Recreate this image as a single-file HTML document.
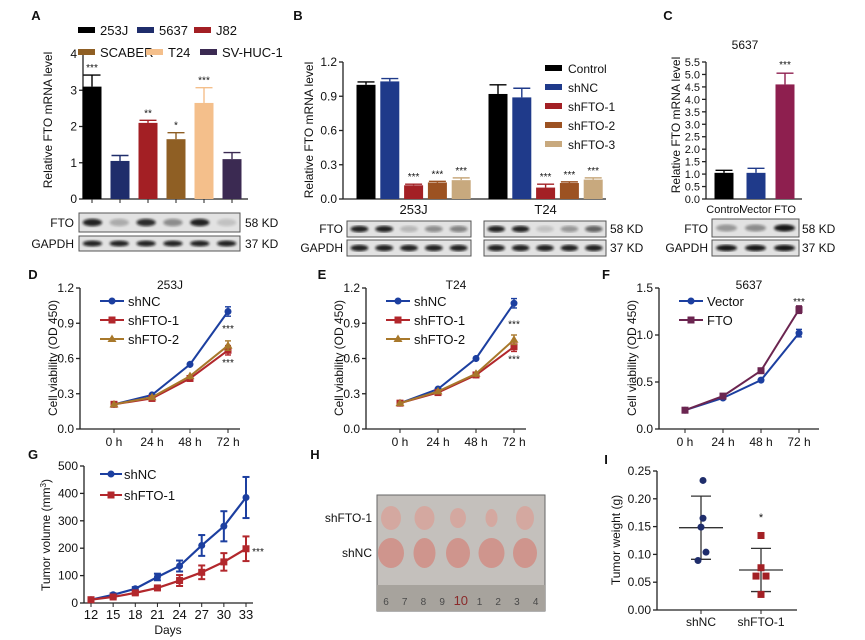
<!DOCTYPE html>
<html><head><meta charset="utf-8"><style>
html,body{margin:0;padding:0;background:#fff}
svg{display:block;font-family:"Liberation Sans",sans-serif}
</style></head><body>
<svg id="fig" width="865" height="640" viewBox="0 0 865 640">
<defs><filter id="blur"><feGaussianBlur stdDeviation="1.2"/></filter></defs>
<g id="root"></g>
</svg>
<script>
// Panel A
const aCats=["253J","5637","J82","SCABER","T24","SV-HUC-1"];
const aVals=[3.1,1.05,2.1,1.65,2.65,1.1];
const aErr=[0.32,0.15,0.07,0.18,0.42,0.18];
const aSig=["***","","**","*","***",""];
const aTicks=[0,1,2,3,4];
// Panel B
const bGroups=["253J","T24"];
const bSeries=["Control","shNC","shFTO-1","shFTO-2","shFTO-3"];
const b253=[1.0,1.03,0.12,0.145,0.165];
const b253Err=[0.025,0.025,0.01,0.01,0.02];
const bT24=[0.92,0.89,0.1,0.14,0.17];
const bT24Err=[0.08,0.08,0.03,0.01,0.015];
const bTicks=[0,0.3,0.6,0.9,1.2];
// Panel C
const cCats=["Control","Vector","FTO"];
const cVals=[1.05,1.05,4.6];
const cErr=[0.1,0.18,0.45];
const cTicks=[0,0.5,1,1.5,2,2.5,3,3.5,4,4.5,5,5.5];
// Panels D/E/F
const timeCats=["0 h","24 h","48 h","72 h"];
const dShNC=[0.21,0.29,0.55,1.0];
const dShFTO1=[0.21,0.26,0.43,0.67];
const dShFTO2=[0.21,0.27,0.45,0.71];
const eShNC=[0.22,0.34,0.6,1.07];
const eShFTO1=[0.22,0.31,0.46,0.7];
const eShFTO2=[0.22,0.32,0.47,0.76];
const fVector=[0.2,0.33,0.52,1.02];
const fFTO=[0.2,0.35,0.62,1.27];
const cvTicks=[0,0.3,0.6,0.9,1.2];
const fTicks=[0,0.5,1.0,1.5];
// Panel G
const gDays=[12,15,18,21,24,27,30,33];
const gShNC=[12,30,52,95,135,210,280,385];
const gShNCErr=[5,5,6,12,20,38,55,75];
const gShFTO=[12,22,37,55,82,112,150,198];
const gShFTOErr=[3,5,6,6,20,25,32,45];
const gTicks=[0,100,200,300,400,500];
// Panel I
const iGroups=["shNC","shFTO-1"];
const iShNC=[0.233,0.165,0.149,0.104,0.089];
const iShFTO=[0.134,0.076,0.061,0.061,0.028];
const iTicks=[0,0.05,0.1,0.15,0.2,0.25];

const NS="http://www.w3.org/2000/svg";
const root=document.getElementById('root');
function el(tag,attrs,parent,text){const e=document.createElementNS(NS,tag);for(const k in attrs)e.setAttribute(k,attrs[k]);if(text!==undefined)e.textContent=text;(parent||root).appendChild(e);return e;}
function lin(d0,d1,r0,r1){return v=>r0+(v-d0)*(r1-r0)/(d1-d0);}
function txt(x,y,s,size,anchor,parent,name,extra){const t=el('text',Object.assign({x:x,y:y,'font-size':size,'text-anchor':anchor||'middle',fill:'#111'},extra||{}),parent,s);

return t;}
function yAxis(g,x,y,ticks,fmt,fs){el('line',{x1:x,y1:y(ticks[0]),x2:x,y2:y(ticks[ticks.length-1]),stroke:'#222','stroke-width':1.3},g);
ticks.forEach(t=>{el('line',{x1:x-4,y1:y(t),x2:x,y2:y(t),stroke:'#222','stroke-width':1.3},g);txt(x-6,y(t)+4,fmt(t),fs||12,'end',g,'y-tick-label');});}
function ytitle(g,x,y,s){const t=txt(x,y,s,12,'middle',g,'y-axis-title',{transform:`rotate(-90 ${x} ${y})`});return t;}
function panelLabel(x,y,s){const t=txt(x,y,s,13,'middle',root,'panel-label-'+s.toLowerCase(),{'font-weight':'bold'});}
function errBar(g,x,y1,y2,w,color){el('line',{x1:x,y1:y1,x2:x,y2:y2,stroke:color,'stroke-width':1.4},g);el('line',{x1:x-w,y1:y2,x2:x+w,y2:y2,stroke:color,'stroke-width':1.4},g);}
function bar(g,x,w,y,v,err,color,name){const r=el('rect',{x:x-w/2,y:y(v),width:w,height:y(0)-y(v),fill:color},g);


errBar(g,x,y(v),y(v+err),w/2-1,color);}
function blot(g,x1,x2,y1,h,n,intens,name){const b=el('rect',{x:x1,y:y1,width:x2-x1,height:h,fill:'#e2e2e2',stroke:'#555','stroke-width':1},g);


const step=(x2-x1)/n;for(let i=0;i<n;i++){el('ellipse',{cx:x1+step*(i+0.5),cy:y1+h/2,rx:step*0.36,ry:h*0.2,fill:'#111','opacity':intens[i],filter:'url(#blur)'},g);}}

// ---------- Panel A ----------
(function(){const g=el('g',{});  
panelLabel(36,20,'A');
const y=lin(0,4,199,54);const cols=['#000','#1f2d6b','#a31f24','#8f5f24','#f4bf8b','#3b2a52'];
const xs=aCats.map((c,i)=>92+i*28);
yAxis(g,83,y,aTicks,t=>t);
el('line',{x1:83,y1:199,x2:248,y2:199,stroke:'#222','stroke-width':1.3},g);
aCats.forEach((c,i)=>{bar(g,xs[i],19,y,aVals[i],aErr[i],cols[i],'bar-'+c.toLowerCase());
el('line',{x1:xs[i],y1:199,x2:xs[i],y2:203,stroke:'#222'},g);
if(aSig[i])txt(xs[i],y(aVals[i]+aErr[i])-4,aSig[i],10,'middle',g,'significance-mark');});
ytitle(g,52,120,'Relative FTO mRNA level');
const leg=[[78,30],[137,30],[194,30],[78,52],[146,52],[200,52]];
aCats.forEach((c,i)=>{const r=el('rect',{x:leg[i][0],y:leg[i][1]-3,width:17,height:6,fill:cols[i]},g);


txt(leg[i][0]+22,leg[i][1]+5,c,13,'start',g,'legend-entry');});
blot(g,79,240,213,19,6,[0.9,0.25,0.85,0.4,0.9,0.15],'fto-blot');
blot(g,79,240,236,15,6,[0.9,0.9,0.9,0.9,0.9,0.9],'gapdh-blot');
txt(74,227,'FTO',12,'end',g,'blot-label');txt(74,248,'GAPDH',12,'end',g,'blot-label');
txt(245,227,'58 KD',12,'start',g,'blot-size');txt(245,248,'37 KD',12,'start',g,'blot-size');
})();

// ---------- Panel B ----------
(function(){const g=el('g',{});  
panelLabel(298,20,'B');
const y=lin(0,1.2,199,62);const cols=['#000','#1f3a8a','#a32025','#9c5222','#c8a97e'];
yAxis(g,343,y,bTicks,t=>t.toFixed(1));
el('line',{x1:343,y1:199,x2:606,y2:199,stroke:'#222','stroke-width':1.3},g);
const starts=[366,498];const data=[b253,bT24];const errs=[b253Err,bT24Err];
bGroups.forEach((gr,k)=>{bSeries.forEach((s,i)=>{const x=starts[k]+i*23.8;bar(g,x,19,y,data[k][i],errs[k][i],cols[i],'bar-'+gr.toLowerCase()+'-'+s.toLowerCase());
if(i>=2)txt(x,y(data[k][i]+errs[k][i])-4,'***',10,'middle',g,'significance-mark');});
txt(starts[k]+47.6,214,gr,13,'middle',g,'x-group-label');});
ytitle(g,313,130,'Relative FTO mRNA level');
bSeries.forEach((s,i)=>{const r=el('rect',{x:545,y:65+i*19,width:17,height:6,fill:cols[i]},g);


txt(568,73+i*19,s,12,'start',g,'legend-entry');});
blot(g,347,471,221,16,5,[0.9,0.9,0.2,0.4,0.45],'fto-blot-253j');
blot(g,347,471,240,16,5,[0.9,0.9,0.9,0.9,0.9],'gapdh-blot-253j');
blot(g,484,606,221,16,5,[0.9,0.9,0.15,0.35,0.6],'fto-blot-t24');
blot(g,484,606,240,16,5,[0.9,0.9,0.9,0.9,0.9],'gapdh-blot-t24');
txt(343,233,'FTO',12,'end',g,'blot-label');txt(343,252,'GAPDH',12,'end',g,'blot-label');
txt(610,233,'58 KD',12,'start',g,'blot-size');txt(610,252,'37 KD',12,'start',g,'blot-size');
})();

// ---------- Panel C ----------
(function(){const g=el('g',{});  
panelLabel(668,20,'C');
const y=lin(0,5.5,199,62);const cols=['#000','#1f3a8a','#8e1f4f'];
yAxis(g,706,y,cTicks,t=>t.toFixed(1),11);
el('line',{x1:706,y1:199,x2:802,y2:199,stroke:'#222','stroke-width':1.3},g);
txt(745,49,'5637',12,'middle',g,'chart-title');
const xs=[724,756,785];
cCats.forEach((c,i)=>{bar(g,xs[i],19,y,cVals[i],cErr[i],cols[i],'bar-'+c.toLowerCase());txt(xs[i],213,c,11,'middle',g,'x-tick-label');});
txt(785,y(cVals[2]+cErr[2])-5,'***',10,'middle',g,'significance-mark');
ytitle(g,680,125,'Relative FTO mRNA level');
blot(g,712,799,219,18,3,[0.35,0.4,0.95],'fto-blot');
blot(g,712,799,240,16,3,[0.95,0.95,0.95],'gapdh-blot');
txt(708,233,'FTO',12,'end',g,'blot-label');txt(708,252,'GAPDH',12,'end',g,'blot-label');
txt(802,233,'58 KD',12,'start',g,'blot-size');txt(802,252,'37 KD',12,'start',g,'blot-size');
})();

// ---------- line charts ----------
function lineChart(name,label,lx,ox,x0,x3,title,series,names,cols,marks,ticks,ymax,fmt,sig){
const g=el('g',{});
panelLabel(lx,279,label);
const y=lin(0,ymax,429,288);const x=lin(0,3,ox+x0,ox+x3);
yAxis(g,ox,y,ticks,fmt);
el('line',{x1:ox,y1:429,x2:ox+160,y2:429,stroke:'#222','stroke-width':1.3},g);
timeCats.forEach((c,i)=>{el('line',{x1:x(i),y1:429,x2:x(i),y2:433,stroke:'#222'},g);txt(x(i),446,c,12,'middle',g,'x-tick-label');});
txt(ox+90,289,title,12,'middle',g,'chart-title');
ytitle(g,ox-23,358,'Cell viability (OD 450)');
series.forEach((s,k)=>{const p=el('polyline',{points:s.map((v,i)=>x(i)+','+y(v)).join(' '),fill:'none',stroke:cols[k],'stroke-width':2},g);


s.forEach((v,i)=>{if(i==3){errBar(g,x(i),y(v),y(v+0.04),3,cols[k]);errBar(g,x(i),y(v),y(v-0.04),3,cols[k]);}
if(i==2){el('line',{x1:x(i),y1:y(v-0.03),x2:x(i),y2:y(v+0.03),stroke:cols[k],'stroke-width':1.4},g);}
mark(g,x(i),y(v),marks[k],cols[k]);});
const ly=301+k*19;el('line',{x1:ox+20,y1:ly,x2:ox+44,y2:ly,stroke:cols[k],'stroke-width':2},g);mark(g,ox+32,ly,marks[k],cols[k]);
txt(ox+48,ly+5,names[k],13,'start',g,'legend-entry');});
sig.forEach(s=>txt(x(3),y(s)+4,'***',10,'middle',g,'significance-mark'));
}
function mark(g,x,y,m,c){let e;if(m=='c')e=el('circle',{cx:x,cy:y,r:3.5,fill:c},g);else if(m=='s')e=el('rect',{x:x-3.5,y:y-3.5,width:7,height:7,fill:c},g);else e=el('polygon',{points:`${x},${y-4.5} ${x+4.5},${y+3} ${x-4.5},${y+3}`,fill:c},g);

}
const lblue='#1c3fa0',lred='#b2272c',ltan='#a8782b',lpur='#6b2550';
lineChart('panel-d','D',33,80,34,148,'253J',[dShNC,dShFTO1,dShFTO2],['shNC','shFTO-1','shFTO-2'],[lblue,lred,ltan],['c','s','t'],cvTicks,1.2,t=>t.toFixed(1),[0.86,0.57]);
lineChart('panel-e','E',322,366,34,148,'T24',[eShNC,eShFTO1,eShFTO2],['shNC','shFTO-1','shFTO-2'],[lblue,lred,ltan],['c','s','t'],cvTicks,1.2,t=>t.toFixed(1),[0.9,0.6]);
lineChart('panel-f','F',606,659,26,140,'5637',[fVector,fFTO],['Vector','FTO'],[lblue,lpur],['c','s'],fTicks,1.5,t=>t.toFixed(1),[1.36]);

// ---------- Panel G ----------
(function(){const g=el('g',{});
panelLabel(33,459,'G');
const y=lin(0,500,603,466);const x=lin(12,33,91,246);
yAxis(g,84,y,gTicks,t=>t);
el('line',{x1:84,y1:603,x2:253,y2:603,stroke:'#222','stroke-width':1.3},g);
gDays.forEach(d=>{el('line',{x1:x(d),y1:603,x2:x(d),y2:607,stroke:'#222'},g);txt(x(d),619,d,13,'middle',g,'x-tick-label');});
txt(168,634,'Days',12,'middle',g,'x-axis-title');
const t=txt(50,535,'Tumor volume (mm',12,'middle',g,'y-axis-title',{transform:'rotate(-90 50 535)'});
el('tspan',{'font-size':8,dy:-4},t,'3');el('tspan',{dy:4},t,')');
[[gShNC,gShNCErr,lblue,'c','shNC'],[gShFTO,gShFTOErr,lred,'s','shFTO-1']].forEach((s,k)=>{
const p=el('polyline',{points:gDays.map((d,i)=>x(d)+','+y(s[0][i])).join(' '),fill:'none',stroke:s[2],'stroke-width':2.2},g);


gDays.forEach((d,i)=>{const v=s[0][i],e=s[1][i];el('line',{x1:x(d),y1:y(v-e),x2:x(d),y2:y(v+e),stroke:s[2],'stroke-width':2},g);
el('line',{x1:x(d)-3.5,y1:y(v-e),x2:x(d)+3.5,y2:y(v-e),stroke:s[2],'stroke-width':2},g);el('line',{x1:x(d)-3.5,y1:y(v+e),x2:x(d)+3.5,y2:y(v+e),stroke:s[2],'stroke-width':2},g);
mark(g,x(d),y(v),s[3],s[2]);});
const ly=474+k*21;el('line',{x1:100,y1:ly,x2:122,y2:ly,stroke:s[2],'stroke-width':2},g);mark(g,111,ly,s[3],s[2]);txt(124,ly+5,s[4],13,'start',g,'legend-entry');});
txt(258,555,'***',10,'middle',g,'significance-mark');
})();

// ---------- Panel H ----------
(function(){const g=el('g',{});
panelLabel(315,459,'H');
const ph=el('rect',{x:377,y:495,width:168,height:116,fill:'#c4c0bc',stroke:'#666'},g);


el('rect',{x:377,y:585,width:168,height:26,fill:'#a7a39d'},g);
const nums=['6','7','8','9','10','1','2','3','4'];
nums.forEach((n,i)=>txt(386+i*18.7,605,n,n=='10'?13:10,'middle',g,'ruler-number',{fill:n=='10'?'#8a2a2a':'#4a4a4a'}));
const rx1=[10,10,8,6,9],ry1=[12,12,10,9,12],rx2=[13,11,12,13,12];
for(let i=0;i<5;i++){const cx=391+i*33.5;
el('ellipse',{cx:cx,cy:518,rx:rx1[i],ry:ry1[i],fill:'#d4a8a0'},g);
el('ellipse',{cx:cx,cy:553,rx:rx2[i],ry:15,fill:'#cf958d'},g);}
txt(372,522,'shFTO-1',12,'end',g,'row-label');txt(372,557,'shNC',12,'end',g,'row-label');
})();

// ---------- Panel I ----------
(function(){const g=el('g',{});
panelLabel(606,464,'I');
const y=lin(0,0.25,610,471);
yAxis(g,657,y,iTicks,t=>t.toFixed(2));
el('line',{x1:657,y1:610,x2:797,y2:610,stroke:'#222','stroke-width':1.3},g);
ytitle(g,620,540,'Tumor weight (g)');
const xs=[701,761];const offs=[2,2,0,5,-3];
[[iShNC,'#1f2d6b','c'],[iShFTO,'#a32025','s']].forEach((s,k)=>{
const vals=s[0];const m=vals.reduce((a,b)=>a+b,0)/vals.length;
const sd=Math.sqrt(vals.reduce((a,b)=>a+(b-m)*(b-m),0)/(vals.length-1));
el('line',{x1:xs[k],y1:y(m-sd),x2:xs[k],y2:y(m+sd),stroke:'#333','stroke-width':1.3},g);
el('line',{x1:xs[k]-22,y1:y(m),x2:xs[k]+22,y2:y(m),stroke:'#333','stroke-width':1.3},g);
el('line',{x1:xs[k]-10,y1:y(m-sd),x2:xs[k]+10,y2:y(m-sd),stroke:'#333','stroke-width':1.3},g);
el('line',{x1:xs[k]-10,y1:y(m+sd),x2:xs[k]+10,y2:y(m+sd),stroke:'#333','stroke-width':1.3},g);
vals.forEach((v,i)=>{let dx=k==0?offs[i]:[0,0,-5,5,0][i];mark(g,xs[k]+dx,y(v),s[2],s[1]);});
el('line',{x1:xs[k],y1:610,x2:xs[k],y2:614,stroke:'#222'},g);
txt(xs[k],626,iGroups[k],12,'middle',g,'x-tick-label');});
txt(761,521,'*',11,'middle',g,'significance-mark');
})();
</script>
</body></html>
